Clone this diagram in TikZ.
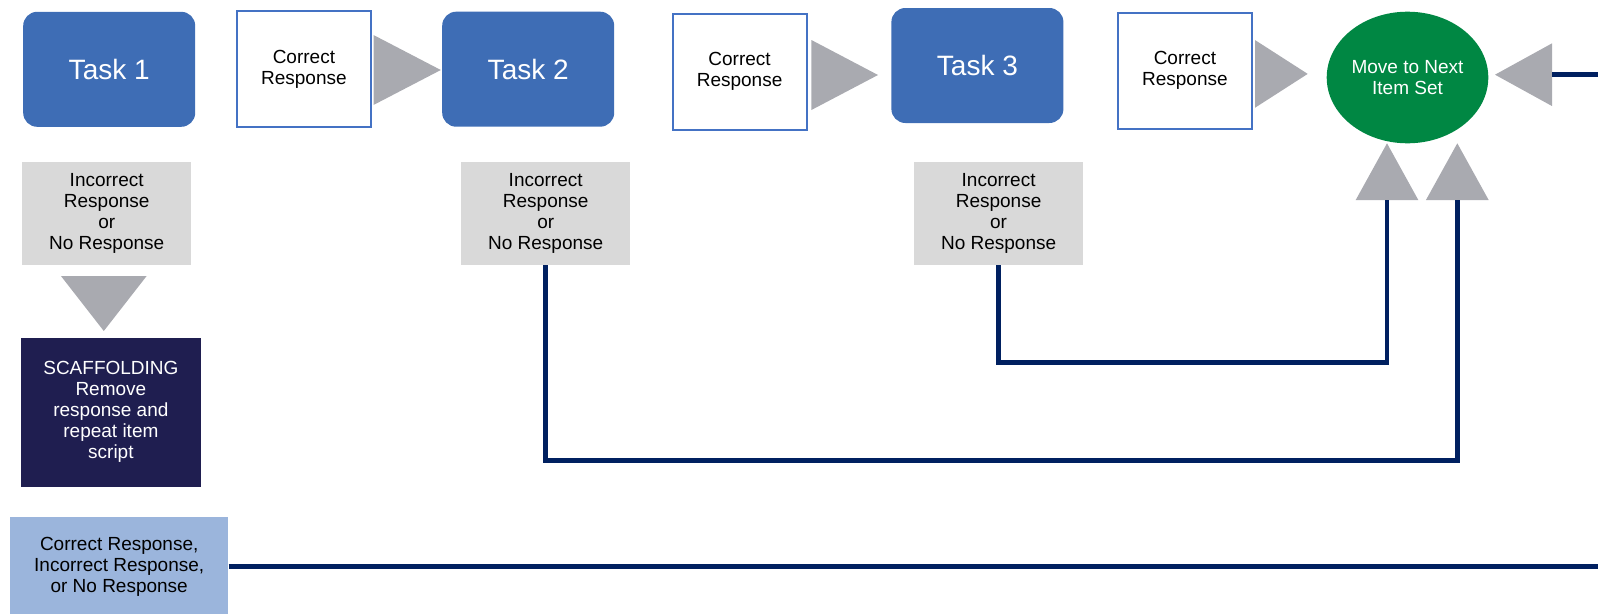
\documentclass[tikz,border=0pt]{standalone}
\usepackage{fontspec}
\setmainfont{Liberation Sans}
\usetikzlibrary{shapes.geometric}
\definecolor{taskblue}{RGB}{62,109,181}
\definecolor{boxblue}{RGB}{68,114,196}
\definecolor{pointgray}{RGB}{169,170,176}
\definecolor{wronggray}{RGB}{217,217,217}
\definecolor{scafnavy}{RGB}{31,30,80}
\definecolor{paleblue}{RGB}{155,181,220}
\definecolor{nextgreen}{RGB}{0,135,67}
\definecolor{linknavy}{RGB}{0,32,96}
\begin{document}
\begin{tikzpicture}[x=1pt,y=-1pt]
        \tikzstyle{txt}=[font=\fontsize{19}{21}\selectfont,align=center,inner sep=0pt]
        \tikzstyle{task}=[rectangle,rounded corners=14pt,fill=taskblue,text=white,font=\fontsize{28}{32}\selectfont,minimum width=172pt,minimum height=115pt]
        \tikzstyle{correct}=[txt,rectangle,draw=boxblue,line width=2pt,fill=white,minimum width=134pt,minimum height=116pt]
        \tikzstyle{wrong}=[txt,rectangle,fill=wronggray,minimum width=168.6pt,minimum height=102.7pt]
        \tikzstyle{pointer}=[isosceles triangle,isosceles triangle stretches,fill=pointgray,inner sep=0pt,outer sep=0pt,anchor=lower side]
        \tikzstyle{link}=[draw=linknavy,line width=4.5pt]
        \useasboundingbox (0,0) rectangle (1598,613);
        % top row
        \node [task] (task1) at (109.2,69.3) {Task 1};
        \node [correct] (cr1) at (303.9,69.2) {Correct\\Response};
        \node [pointer,minimum height=67.3pt,minimum width=70pt] (p1) at (373.5,70) {};
        \node [task] (task2) at (528.2,69.2) {Task 2};
        \node [correct] (cr2) at (739.6,71.7) {Correct\\Response};
        \node [pointer,minimum height=66.6pt,minimum width=70pt] (p2) at (811.4,75) {};
        \node [task] (task3) at (977.4,65.5) {Task 3};
        \node [correct] (cr3) at (1184.9,70.5) {Correct\\Response};
        \node [pointer,minimum height=52.7pt,minimum width=67.7pt] (p3) at (1255,73.9) {};
        \node [txt,ellipse,fill=nextgreen,text=white,minimum width=161.6pt,minimum height=131.6pt] (next) at (1407.5,77.5) {Move to Next\\Item Set};
        \node [pointer,rotate=180,minimum height=57pt,minimum width=62.7pt] (pR) at (1552,74.7) {};
        \node [pointer,rotate=90,minimum height=56.7pt,minimum width=62.6pt] (pU1) at (1387,200) {};
        \node [pointer,rotate=90,minimum height=56.7pt,minimum width=62.7pt] (pU2) at (1457.3,200) {};
        % wrong answers
        \node [wrong] (wrong1) at (106.7,213.7) {Incorrect\\Response\\or\\No Response};
        \node [wrong] (wrong2) at (545.7,213.7) {Incorrect\\Response\\or\\No Response};
        \node [wrong] (wrong3) at (998.6,213.7) {Incorrect\\Response\\or\\No Response};
        \node [pointer,rotate=-90,minimum height=55pt,minimum width=85.7pt] (pD) at (103.8,276) {};
        \node [txt,rectangle,fill=scafnavy,text=white,minimum width=180.3pt,minimum height=149pt] (scaf) at (110.9,412.2) {SCAFFOLDING\\Remove\\response and\\repeat item\\script};
        \node [txt,rectangle,fill=paleblue,minimum width=218.3pt,minimum height=100pt] (allresp) at (119.2,566.7) {Correct Response,\\Incorrect Response,\\or No Response};
        \coordinate (edgeR) at (1598,74.7);
        \coordinate (edgeB) at (1598,566.7);
        % connectors
        \path[link] (wrong2.south) -- ++(0,195) -| (pU2.lower side);
        \path[link] (wrong3.south) -- ++(0,97.3) -| (pU1.lower side);
        \path[link] (edgeR) -- (pR.lower side);
        \path[link] (allresp.east) -- (edgeB);
\end{tikzpicture}
\end{document}
